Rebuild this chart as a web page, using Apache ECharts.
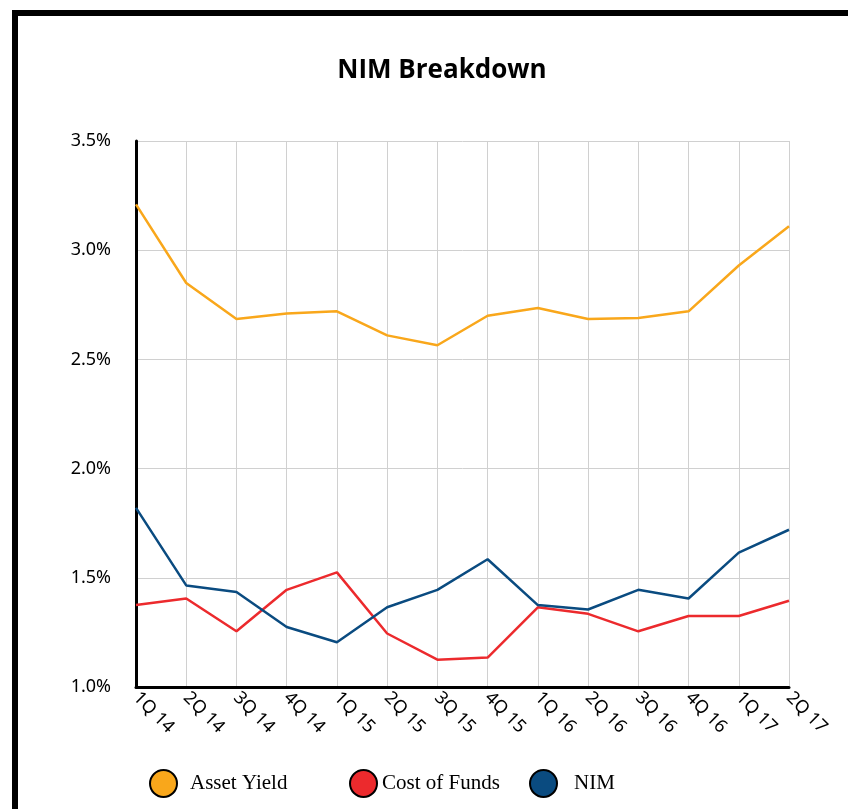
<!DOCTYPE html>
<html>
<head>
<meta charset="utf-8">
<script src="https://cdn.jsdelivr.net/npm/echarts@6/dist/echarts.min.js"></script>
<style>
  html, body { margin: 0; padding: 0; background: #fff; }
  #main { width: 848px; height: 809px; }
</style>
</head>
<body>
<div id="main"></div>
<script>
// NIM breakdown line chart
var quarters = ['1Q 14', '2Q 14', '3Q 14', '4Q 14', '1Q 15', '2Q 15', '3Q 15', '4Q 15',
                '1Q 16', '2Q 16', '3Q 16', '4Q 16', '1Q 17', '2Q 17'];
var assetYield = [3.21, 2.85, 2.685, 2.71, 2.72, 2.61, 2.565, 2.70, 2.735, 2.685, 2.69, 2.72, 2.93, 3.11];
var costOfFunds = [1.375, 1.405, 1.255, 1.445, 1.525, 1.245, 1.125, 1.135, 1.365, 1.335, 1.255, 1.325, 1.325, 1.395];
var nim = [1.82, 1.465, 1.435, 1.275, 1.205, 1.365, 1.445, 1.585, 1.375, 1.355, 1.445, 1.405, 1.615, 1.72];
var yTicks = [1.0, 1.5, 2.0, 2.5, 3.0, 3.5];

(function () {
    var myChart = echarts.init(document.getElementById('main'));
    var colors = ['#F9A71B', '#EC2A2D', '#0A4B80'];
    var names = ['Asset Yield', 'Cost of Funds', 'NIM'];

    // one legend per item so the spacing can follow the picture
    var legendLeft = [149, 349, 529];
    var textPad = [8, 0, 12];
    var legends = names.map(function (n, i) {
        return {
            data: [n],
            left: legendLeft[i],
            top: 769,
            padding: 0,
            icon: 'circle',
            itemWidth: 27,
            itemHeight: 27,
            itemGap: 0,
            itemStyle: { borderColor: '#000', borderWidth: 2 },
            textStyle: { fontFamily: 'Liberation Serif', fontSize: 21, color: '#000', padding: [0, 0, 0, textPad[i]] }
        };
    });

    var option = {
        color: colors,
        animation: false,
        title: {
            text: 'NIM Breakdown',
            left: 437,
            textAlign: 'center',
            top: 53,
            textStyle: { fontFamily: 'Open Sans', fontWeight: 'bold', fontSize: 26, color: '#000' }
        },
        legend: legends,
        grid: { left: 136, right: 59, top: 141, bottom: 122 },
        xAxis: {
            type: 'category',
            data: quarters,
            boundaryGap: false,
            axisLine: { lineStyle: { color: '#000', width: 3 } },
            axisTick: { show: false },
            axisLabel: {
                rotate: -45,
                margin: 8,
                fontFamily: 'Noto Sans',
                fontSize: 18,
                color: '#000'
            },
            splitLine: { show: true, lineStyle: { color: '#d0d0d0', width: 1 } }
        },
        yAxis: {
            type: 'value',
            min: yTicks[0],
            max: yTicks[yTicks.length - 1],
            interval: 0.5,
            axisLine: { show: true, lineStyle: { color: '#000', width: 3 } },
            axisTick: { show: false },
            axisLabel: {
                margin: 25,
                fontFamily: 'Noto Sans',
                fontSize: 18,
                color: '#000',
                formatter: function (v) { return v.toFixed(1) + '%'; }
            },
            splitLine: { lineStyle: { color: '#d0d0d0', width: 1 } }
        },
        graphic: [
            { type: 'rect', shape: { x: 12, y: 10, width: 836, height: 6 }, style: { fill: '#000' } },
            { type: 'rect', shape: { x: 12, y: 10, width: 6, height: 799 }, style: { fill: '#000' } }
        ],
        series: [
            { name: names[0], type: 'line', data: assetYield, showSymbol: false, lineStyle: { width: 2.5 } },
            { name: names[1], type: 'line', data: costOfFunds, showSymbol: false, lineStyle: { width: 2.5 } },
            { name: names[2], type: 'line', data: nim, showSymbol: false, lineStyle: { width: 2.5 } }
        ]
    };
    myChart.setOption(option);
})();
</script>
</body>
</html>
